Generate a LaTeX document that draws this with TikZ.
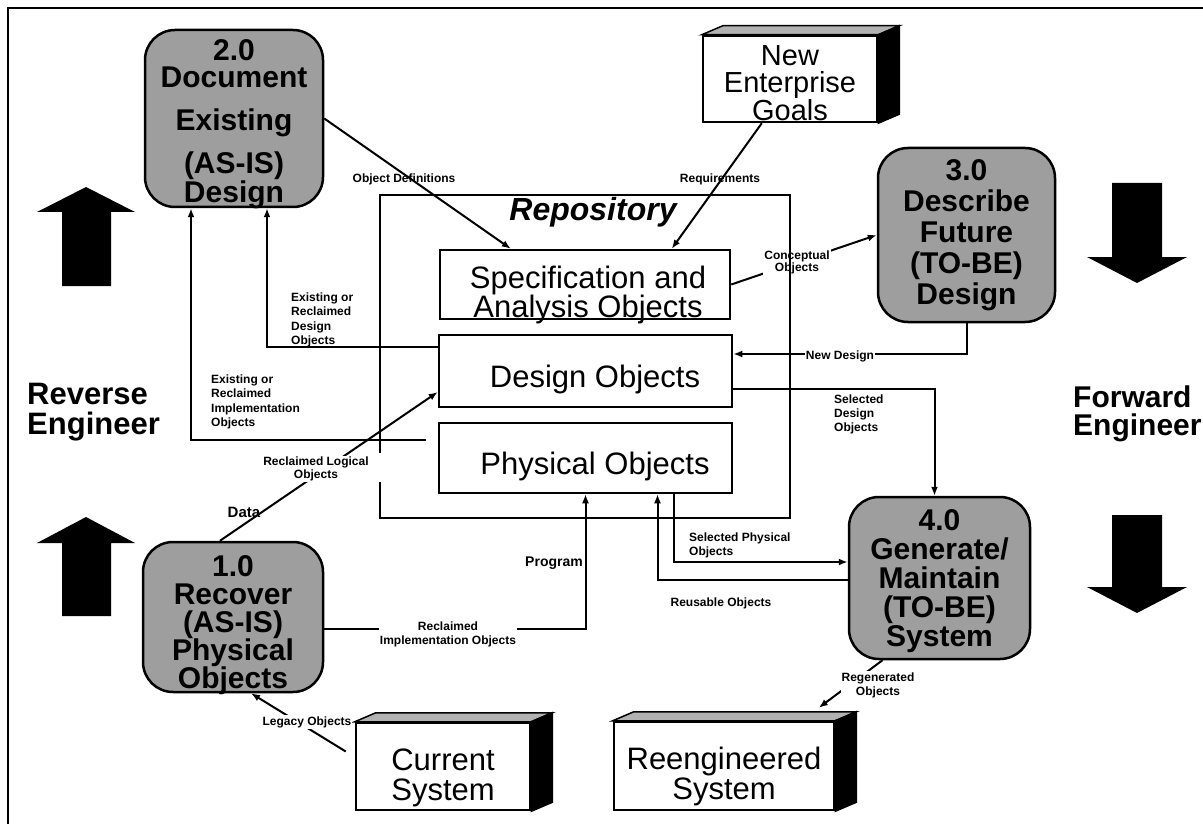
\documentclass[tikz,border=0pt]{standalone}
\usepackage{fontspec}
\setmainfont{Liberation Sans}
\usetikzlibrary{arrows.meta}

\begin{document}
\begin{tikzpicture}[x=1pt,y=-1pt,
  proc/.style={draw,line width=2.5pt,fill=black!38,rounded corners=30pt,inner sep=0pt},
  ptext/.style={inner sep=0pt,align=center,font=\fontsize{30}{#1}\selectfont\bfseries},
  objbox/.style={draw,line width=2.5pt,fill=white,inner sep=0pt},
  otext/.style={inner sep=0pt,align=center,font=\fontsize{31}{#1}\selectfont},
  lbl/.style={font=\fontsize{12}{14}\selectfont\bfseries,inner sep=1pt},
  flow/.style={line width=2pt,-{Latex[length=9pt,width=7pt]}},
  face/.style={line width=1.5pt}]

\useasboundingbox (0,0) rectangle (1203,824);

% outer frame
\draw[line width=2pt] (8,840) -- (8,8) -- (1220,8);

% block arrows
\fill (86,187) -- (135,212) -- (111,212) -- (111,286) -- (62,286) -- (62,212) -- (37,212) -- cycle;
\fill (86,517) -- (135,543) -- (111,543) -- (111,616) -- (62,616) -- (62,543) -- (37,543) -- cycle;
\fill (1137,283) -- (1187,257) -- (1162,257) -- (1162,183) -- (1112,183) -- (1112,257) -- (1087,257) -- cycle;
\fill (1137,613) -- (1187,587) -- (1162,587) -- (1162,515) -- (1112,515) -- (1112,587) -- (1087,587) -- cycle;

% side captions
\node[anchor=west,align=left,inner sep=0pt,font=\fontsize{31}{30}\selectfont\bfseries] (rev) at (27,412) {Reverse\\Engineer};
\node[anchor=west,align=left,inner sep=0pt,font=\fontsize{30}{28}\selectfont\bfseries] (fwd) at (1073,414) {Forward\\Engineer};

% processes
\node[proc,minimum width=178pt,minimum height=177pt] (p2) at (234,118.5) {};
\node[ptext=35] (p2t) at (234,124) {2.0\\[-8pt]Document\\[8pt]Existing\\[8pt](AS-IS)\\[-6pt]Design};
\node[proc,minimum width=177pt,minimum height=174pt] (p3) at (966.5,235) {};
\node[ptext=31] (p3t) at (966.5,235) {3.0\\Describe\\Future\\(TO-BE)\\Design};
\node[proc,minimum width=181pt,minimum height=162pt] (p4) at (939.5,578) {};
\node[ptext=29] (p4t) at (939.5,581) {4.0\\Generate/\\Maintain\\(TO-BE)\\System};
\node[proc,minimum width=180pt,minimum height=150pt] (p1) at (233,617) {};
\node[ptext=28] (p1t) at (233,625) {1.0\\Recover\\(AS-IS)\\Physical\\Objects};

% repository contents
\node[inner sep=0pt,font=\fontsize{32}{32}\selectfont\bfseries\itshape] (repo) at (593,212) {Repository};
\node[objbox,minimum width=290pt,minimum height=69pt] (spec) at (585,284.5) {};
\node[otext=27] (spect) at (588,295) {Specification and\\Analysis Objects};
\node[objbox,minimum width=293pt,minimum height=72pt] (design) at (585.5,371) {};
\node[otext=31] (designt) at (595,379) {Design Objects};
\node[objbox,minimum width=293pt,minimum height=70pt] (phys) at (585.5,458) {};
\node[otext=31] (physt) at (595,466) {Physical Objects};

% external entities (boxes with depth)
\node[objbox,minimum width=174pt,minimum height=86pt] (goals) at (790,79) {};
\node[otext=26,font=\fontsize{29}{26.5}\selectfont] (goalst) at (790,83) {New\\Enterprise\\Goals};
\node[objbox,minimum width=174pt,minimum height=87pt] (cur) at (443,766.5) {};
\node[otext=30] (curt) at (443,778) {Current\\System};
\node[objbox,minimum width=220pt,minimum height=88pt] (reeng) at (724,766) {};
\node[otext=30] (reengt) at (724,776) {Reengineered\\System};
\foreach \n in {goals,cur,reeng} {
  \filldraw[face,fill=black!30] (\n.north west) -- ++(21,-9) -- ([shift={(21,-9)}]\n.north east) -- (\n.north east) -- cycle;
  \filldraw[face,fill=black] (\n.north east) -- ([shift={(21,-9)}]\n.north east) -- ([shift={(21,-9)}]\n.south east) -- (\n.south east) -- cycle;
}

% flows
\draw[flow] (p2.east) -- ([xshift=72pt]spec.north west);
\draw[flow] ([xshift=60pt]goals.south west) -- ([xshift=233pt]spec.north west);
\draw[flow] (spec.east) -- (p3.west);
\draw[flow] (p3.south) |- ([yshift=17pt]design.east);
\draw[flow] ([yshift=-18pt]design.east) -| ([xshift=-5pt]p4.north);
\draw[flow] ([xshift=88pt]phys.south) |- ([yshift=16pt]p4.west);
\draw[flow] ([yshift=-2pt]p4.west) -| ([xshift=72pt]phys.south);
\draw[flow] ([yshift=-12pt]p1.east) -| (phys.south);
\draw[flow] ([xshift=-13pt]p1.north) -- ([yshift=-21pt]design.west);
\draw[flow] ([yshift=24pt]design.west) -| ([xshift=33pt]p2.south);
\draw[flow,shorten <=12pt] ([yshift=18pt]phys.west) -| ([xshift=-43pt]p2.south);
\draw[flow] ([shift={(-9,-15)}]cur.west) -- ([xshift=18pt]p1.south);
\draw[flow] ([xshift=-57pt]p4.south) -- ([shift={(206,-13)}]reeng.north west);

% flow labels
\node[lbl] (lod) at (404,179) {Object Definitions};
\node[lbl] (lreq) at (720,179) {Requirements};
\node[lbl,fill=white,align=center,font=\fontsize{12}{12}\selectfont\bfseries] (lconc) at (797,262) {Conceptual\\Objects};
\node[lbl,fill=white] (lnew) at (840,356) {New Design};
\node[lbl,align=left,anchor=west] (lseld) at (833,414) {Selected\\Design\\Objects};
\node[lbl,align=left,anchor=west] (lselp) at (688,545) {Selected Physical\\Objects};
\node[lbl] (lreu) at (721,603) {Reusable Objects};
\node[lbl,anchor=east,font=\fontsize{14}{14}\selectfont\bfseries] (lprog) at (584,563) {Program};
\node[lbl,fill=white,align=center] (lrim) at (448,634) {Reclaimed\\Implementation Objects};
\node[lbl,align=left,anchor=west,font=\fontsize{12}{14.5}\selectfont\bfseries] (lexd) at (290,320) {Existing or\\Reclaimed\\Design\\Objects};
\node[lbl,align=left,anchor=west,font=\fontsize{12}{14.5}\selectfont\bfseries] (lexi) at (210,402) {Existing or\\Reclaimed\\Implementation\\Objects};
\node[lbl,fill=white,align=center,font=\fontsize{12}{12.5}\selectfont\bfseries] (lrlo) at (316,469) {Reclaimed Logical\\Objects};
\node[lbl,font=\fontsize{15}{15}\selectfont\bfseries] (ldata) at (244,512) {Data};
\node[lbl,fill=white] (lleg) at (307,722) {Legacy Objects};
\node[lbl,fill=white,align=center] (lreg) at (878,685) {Regenerated\\Objects};

% repository outline
\draw[line width=2.5pt] (380,453) -- (380,195) -- (790,195) -- (790,518) -- (380,518) -- (380,482);

\end{tikzpicture}
\end{document}
